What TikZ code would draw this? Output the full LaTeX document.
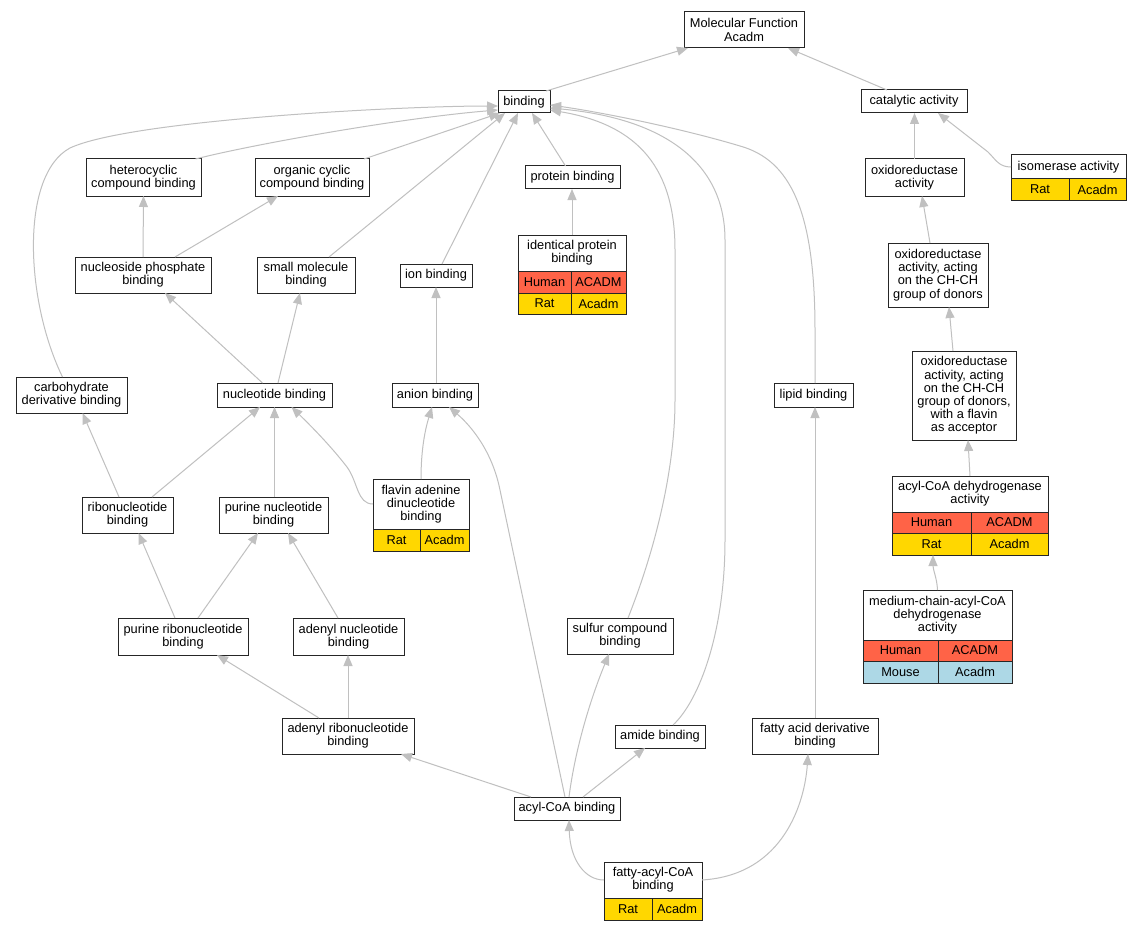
\documentclass[tikz,border=0pt]{standalone}
\usepackage{fontspec}
\setmainfont{Liberation Sans}
\usetikzlibrary{arrows.meta}
\definecolor{human}{RGB}{255,99,71}
\definecolor{rat}{RGB}{255,215,0}
\definecolor{mouse}{RGB}{173,216,230}
\definecolor{linkgray}{RGB}{192,192,192}
\tikzstyle{term} = [draw=black!85, line width=1pt, fill=white, align=center, inner sep=0pt, outer sep=0pt, font=\fontsize{12.8}{13.2}\selectfont]
\tikzstyle{cell} = [term, anchor=north west]
\tikzstyle{link} = [>={Triangle[length=11pt,width=9pt]}, ->, draw=linkgray, line width=1pt]

\begin{document}
\begin{tikzpicture}[x=1pt,y=-1pt]
\useasboundingbox[fill=white] (0,0) rectangle (1141,931);

\node[term, minimum width=120pt, minimum height=36pt] (mf) at (744,30) {Molecular Function\\Acadm};
\node[term, minimum width=52pt, minimum height=22pt] (bind) at (524,102) {binding};
\node[term, minimum width=106pt, minimum height=23pt] (cat) at (914,101.5) {catalytic activity};
\node[term, minimum width=115pt, minimum height=37pt] (hetero) at (143.5,177.5) {heterocyclic\\compound binding};
\node[term, minimum width=114pt, minimum height=37pt] (orgcyc) at (312,177.5) {organic cyclic\\compound binding};
\node[term, minimum width=95pt, minimum height=23pt] (prot) at (572.5,177.5) {protein binding};
\node[term, minimum width=99pt, minimum height=37pt] (oxred) at (914.5,177.5) {oxidoreductase\\activity};
\node[term, minimum width=115pt, minimum height=24pt] (isom) at (1068.5,167) {isomerase activity};
\node[cell, fill=rat, minimum width=58pt, minimum height=21pt] (isomA) at (isom.south west) {Rat};
\node[cell, fill=rat, minimum width=57pt, minimum height=21pt] (isomB) at (isomA.north east) {Acadm};

\node[term, minimum width=108pt, minimum height=36pt] (idprot) at (572,253) {identical protein\\binding};
\node[cell, fill=human, minimum width=53pt, minimum height=22pt] (idprotA) at (idprot.south west) {Human};
\node[cell, fill=human, minimum width=55pt, minimum height=22pt] (idprotB) at (idprotA.north east) {ACADM};
\node[cell, fill=rat, minimum width=53pt, minimum height=21pt] (idprotC) at (idprotA.south west) {Rat};
\node[cell, fill=rat, minimum width=55pt, minimum height=21pt] (idprotD) at (idprotC.north east) {Acadm};

\node[term, minimum width=136pt, minimum height=36pt] (nucphos) at (143,275) {nucleoside phosphate\\binding};
\node[term, minimum width=98pt, minimum height=36pt] (smallmol) at (306,275) {small molecule\\binding};
\node[term, minimum width=72pt, minimum height=23pt] (ion) at (436,275.5) {ion binding};
\node[term, minimum width=100pt, minimum height=64pt] (chch) at (938,275) {oxidoreductase\\activity, acting\\on the CH-CH\\group of donors};
\node[term, minimum width=111pt, minimum height=36pt] (carbo) at (71.5,395) {carbohydrate\\derivative binding};
\node[term, minimum width=115pt, minimum height=24pt] (nucl) at (274.5,395) {nucleotide binding};
\node[term, minimum width=86pt, minimum height=24pt] (anion) at (435,395) {anion binding};
\node[term, minimum width=79pt, minimum height=24pt] (lipid) at (813.5,395) {lipid binding};
\node[term, minimum width=104pt, minimum height=89pt] (flacc) at (964,395.5) {oxidoreductase\\activity, acting\\on the CH-CH\\group of donors,\\with a flavin\\as acceptor};
\node[term, minimum width=91pt, minimum height=36pt] (ribo) at (127.5,515) {ribonucleotide\\binding};
\node[term, minimum width=109pt, minimum height=36pt] (purnuc) at (273.5,515) {purine nucleotide\\binding};

\node[term, minimum width=96pt, minimum height=50pt] (fad) at (421,504) {flavin adenine\\dinucleotide\\binding};
\node[cell, fill=rat, minimum width=47pt, minimum height=22pt] (fadA) at (fad.south west) {Rat};
\node[cell, fill=rat, minimum width=49pt, minimum height=22pt] (fadB) at (fadA.north east) {Acadm};

\node[term, minimum width=156pt, minimum height=36pt] (acd) at (970,494) {acyl-CoA dehydrogenase\\activity};
\node[cell, fill=human, minimum width=79pt, minimum height=21pt] (acdA) at (acd.south west) {Human};
\node[cell, fill=human, minimum width=77pt, minimum height=21pt] (acdB) at (acdA.north east) {ACADM};
\node[cell, fill=rat, minimum width=79pt, minimum height=22pt] (acdC) at (acdA.south west) {Rat};
\node[cell, fill=rat, minimum width=77pt, minimum height=22pt] (acdD) at (acdC.north east) {Acadm};

\node[term, minimum width=130pt, minimum height=37pt] (purribo) at (183,636.5) {purine ribonucleotide\\binding};
\node[term, minimum width=111pt, minimum height=37pt] (adenuc) at (348.5,636.5) {adenyl nucleotide\\binding};
\node[term, minimum width=106pt, minimum height=36pt] (sulfur) at (620,636) {sulfur compound\\binding};

\node[term, minimum width=149pt, minimum height=50pt] (mcad) at (937.5,615) {medium-chain-acyl-CoA\\dehydrogenase\\activity};
\node[cell, fill=human, minimum width=75pt, minimum height=21pt] (mcadA) at (mcad.south west) {Human};
\node[cell, fill=human, minimum width=74pt, minimum height=21pt] (mcadB) at (mcadA.north east) {ACADM};
\node[cell, fill=mouse, minimum width=75pt, minimum height=22pt] (mcadC) at (mcadA.south west) {Mouse};
\node[cell, fill=mouse, minimum width=74pt, minimum height=22pt] (mcadD) at (mcadC.north east) {Acadm};

\node[term, minimum width=132pt, minimum height=36pt] (adenribo) at (348,736) {adenyl ribonucleotide\\binding};
\node[term, minimum width=90pt, minimum height=23pt] (amide) at (660,736.5) {amide binding};
\node[term, minimum width=126pt, minimum height=36pt] (fadb) at (815,736) {fatty acid derivative\\binding};
\node[term, minimum width=106pt, minimum height=23pt] (acylcoa) at (567,808.5) {acyl-CoA binding};

\node[term, minimum width=98pt, minimum height=36pt] (fatty) at (653,880) {fatty-acyl-CoA\\binding};
\node[cell, fill=rat, minimum width=48pt, minimum height=22pt] (fattyA) at (fatty.south west) {Rat};
\node[cell, fill=rat, minimum width=50pt, minimum height=22pt] (fattyB) at (fattyA.north east) {Acadm};

\draw[link] ([xshift=22pt]bind.north) -- ([xshift=-56pt]mf.south);
\draw[link] ([xshift=-27pt]cat.north) -- ([xshift=44pt]mf.south);
\draw[link] ([xshift=52pt]hetero.north) .. controls (250,145) and (400,118) .. ([yshift=-8pt]bind.west);
\draw[link] ([xshift=52pt]orgcyc.north) -- ([xshift=2pt]bind.south west);
\draw[link] ([xshift=-9pt]carbo.north) .. controls (25,300) and (20,175) .. (70,148) .. controls (130,120) and (400,106) .. ([yshift=-4pt]bind.west);
\draw[link] ([xshift=23pt]smallmol.north) -- ([xshift=-19pt]bind.south);
\draw[link] ([xshift=6pt]ion.north) -- ([xshift=-6pt]bind.south);
\draw[link] ([xshift=-7pt]prot.north) -- ([xshift=8pt]bind.south);
\draw[link] (idprot.north) -- (idprot.north |- prot.south);
\draw[link] (nucphos.north) -- (hetero.south);
\draw[link] ([xshift=32pt]nucphos.north) -- ([xshift=-34pt]orgcyc.south);
\draw[link] ([xshift=-12pt]nucl.north) -- ([xshift=22pt]nucphos.south);
\draw[link] ([xshift=3.5pt]nucl.north) -- ([xshift=-6pt]smallmol.south);
\draw[link] ([xshift=1pt]anion.north) -- (ion.south);
\draw[link] ([xshift=1.5pt]lipid.north) -- (815,330) .. controls (815,210) and (790,160) .. (740,146) .. controls (680,128) and (600,112) .. ([yshift=-3pt]bind.east);
\draw[link] ([xshift=13pt]amide.north) .. controls (700,700) and (725,630) .. (725,540) -- (725,240) .. controls (725,160) and (660,118) .. ([yshift=-6pt]bind.east);
\draw[link] ([xshift=8pt]sulfur.north) .. controls (655,550) and (675,470) .. (675,400) -- (675,250) .. controls (675,170) and (640,125) .. ([yshift=-8pt]bind.east);
\draw[link] ([xshift=-8.5pt]ribo.north) -- ([xshift=11pt]carbo.south);
\draw[link] ([xshift=24.5pt]ribo.north) -- ([xshift=-14.5pt]nucl.south);
\draw[link] ([xshift=1pt]purnuc.north) -- (nucl.south);
\draw[link] (fad.west) .. controls (357,504) and (358,482) .. (347,467) .. controls (330,445) and (310,425) .. ([xshift=17pt]nucl.south);
\draw[link] (fad.north) .. controls (421,450) and (425,430) .. ([xshift=-3pt]anion.south);
\draw[link] ([xshift=-2pt]acylcoa.north) -- (500,490) .. controls (492,450) and (470,425) .. ([xshift=14pt]anion.south);
\draw[link] ([xshift=2pt]acylcoa.north) .. controls (575,750) and (590,700) .. ([xshift=-11pt]sulfur.south);
\draw[link] ([xshift=16pt]acylcoa.north) -- ([xshift=-15pt]amide.south);
\draw[link] ([xshift=-36pt]acylcoa.north) -- ([xshift=53pt]adenribo.south);
\draw[link] ([xshift=-8pt]purribo.north) -- ([xshift=11pt]ribo.south);
\draw[link] ([xshift=15pt]purribo.north) -- ([xshift=-15.5pt]purnuc.south);
\draw[link] ([xshift=-10.5pt]adenuc.north) -- ([xshift=14.5pt]purnuc.south);
\draw[link] ([xshift=-29pt]adenribo.north) -- ([xshift=34pt]purribo.south);
\draw[link] (adenribo.north) -- (adenribo.north |- adenuc.south);
\draw[link] (fatty.west) .. controls (585,880) and (570,860) .. ([xshift=2pt]acylcoa.south);
\draw[link] (fatty.east) .. controls (785,875) and (805,800) .. ([xshift=-7pt]fadb.south);
\draw[link] (fadb.north) -- (fadb.north |- lipid.south);
\draw[link] (oxred.north) -- (oxred.north |- cat.south);
\draw[link] (isom.west) .. controls (999,167) and (996,160) .. (988,152) -- ([xshift=24pt]cat.south);
\draw[link] ([xshift=-8pt]chch.north) -- ([xshift=7.5pt]oxred.south);
\draw[link] ([xshift=-11pt]flacc.north) -- ([xshift=11pt]chch.south);
\draw[link] (acd.north) -- ([xshift=4pt]flacc.south);
\draw[link] (mcad.north) .. controls (937,578) and (933,570) .. ([xshift=-38pt]acdD.south west);

\end{tikzpicture}
\end{document}
